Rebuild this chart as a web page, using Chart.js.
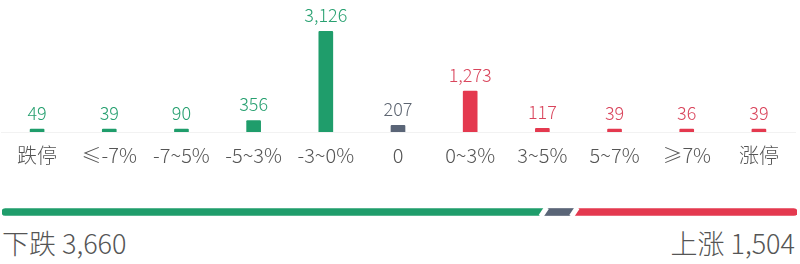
<!DOCTYPE html>
<html>
<head>
<meta charset="utf-8">
<script src="https://cdn.jsdelivr.net/npm/chart.js@4.4.0/dist/chart.umd.min.js"></script>
<style>
  html, body { margin: 0; padding: 0; background: #fff; }
  body { width: 800px; height: 264px; position: relative; overflow: hidden;
         font-family: "Noto Sans CJK SC", "Noto Sans", sans-serif; }
  #distBox { position: absolute; left: 0; top: 0; width: 800px; height: 174px; }
  #ratioBox { position: absolute; left: 0; top: 202px; width: 800px; height: 20px; }
  .sum { position: absolute; top: 225px; font-size: 27px; font-weight: 300; color: #555; line-height: 36px; }
  #downText { left: 2px; }
  #upText { right: 5px; }
</style>
</head>
<body>
<div id="distBox"><canvas id="distChart"></canvas></div>
<div id="ratioBox"><canvas id="ratioChart"></canvas></div>
<div class="sum" id="downText"></div>
<div class="sum" id="upText"></div>
<script>
// ======= 数据 =======
const categories = ['跌停', '≤-7%', '-7~5%', '-5~3%', '-3~0%', '0', '0~3%', '3~5%', '5~7%', '≥7%', '涨停'];
const counts = [49, 39, 90, 356, 3126, 207, 1273, 117, 39, 36, 39];
const groups = ['down', 'down', 'down', 'down', 'down', 'flat', 'up', 'up', 'up', 'up', 'up'];

const barColor = { down: '#1f9d6b', flat: '#5a6577', up: '#e4394f' };
const textColor = { down: '#27a070', flat: '#5c6470', up: '#d9455c' };
const FONT = '"Noto Sans CJK SC", "Noto Sans", sans-serif';

const sumOf = g => counts.reduce((s, v, i) => groups[i] === g ? s + v : s, 0);
const downTotal = sumOf('down');
const flatTotal = sumOf('flat');
const upTotal = sumOf('up');
const fmt = n => n.toLocaleString('en-US');

document.getElementById('downText').textContent = '下跌 ' + fmt(downTotal);
document.getElementById('upText').textContent = '上涨 ' + fmt(upTotal);

// ======= 柱顶数值 =======
const valueLabels = {
  id: 'valueLabels',
  afterDatasetsDraw(chart) {
    const ctx = chart.ctx;
    const meta = chart.getDatasetMeta(0);
    ctx.save();
    ctx.font = '300 18px ' + FONT;
    ctx.textAlign = 'center';
    ctx.textBaseline = 'bottom';
    meta.data.forEach((bar, i) => {
      ctx.fillStyle = textColor[groups[i]];
      ctx.fillText(fmt(counts[i]), bar.x, bar.y - 7);
    });
    ctx.restore();
  }
};

new Chart(document.getElementById('distChart'), {
  type: 'bar',
  data: {
    labels: categories,
    datasets: [{
      data: counts,
      backgroundColor: groups.map(g => barColor[g]),
      barThickness: 14,
      minBarLength: 3,
      borderRadius: 1
    }]
  },
  options: {
    responsive: true,
    maintainAspectRatio: false,
    animation: false,
    layout: { padding: { top: 0, left: 1, right: 5, bottom: 4 } },
    plugins: { legend: { display: false }, tooltip: { enabled: false } },
    scales: {
      x: {
        grid: { display: false },
        border: { display: true, color: '#f2f2f2' },
        ticks: {
          color: '#555',
          padding: 3,
          font: { size: 20, weight: '300', family: FONT }
        }
      },
      y: { display: false, min: 0, max: 4100 }
    }
  },
  plugins: [valueLabels]
});

// ======= 涨跌比例条 =======
const slantGaps = {
  id: 'slantGaps',
  afterDatasetsDraw(chart) {
    const ctx = chart.ctx;
    ctx.save();
    ctx.strokeStyle = '#fff';
    ctx.lineWidth = 5;
    for (let d = 0; d < chart.data.datasets.length - 1; d++) {
      const el = chart.getDatasetMeta(d).data[0];
      const top = el.y - el.height / 2 - 1;
      const bottom = el.y + el.height / 2 + 1;
      ctx.beginPath();
      ctx.moveTo(el.x + 3, top);
      ctx.lineTo(el.x - 3, bottom);
      ctx.stroke();
    }
    ctx.restore();
  }
};

new Chart(document.getElementById('ratioChart'), {
  type: 'bar',
  data: {
    labels: ['ratio'],
    datasets: [
      { data: [downTotal], backgroundColor: barColor.down, barThickness: 7,
        borderRadius: { topLeft: 4, bottomLeft: 4 }, borderSkipped: false },
      { data: [flatTotal], backgroundColor: barColor.flat, barThickness: 7 },
      { data: [upTotal], backgroundColor: barColor.up, barThickness: 7,
        borderRadius: { topRight: 4, bottomRight: 4 }, borderSkipped: false }
    ]
  },
  options: {
    indexAxis: 'y',
    responsive: true,
    maintainAspectRatio: false,
    animation: false,
    layout: { padding: { left: 2, right: 3 } },
    plugins: { legend: { display: false }, tooltip: { enabled: false } },
    scales: {
      x: { display: false, stacked: true, min: 0, max: downTotal + flatTotal + upTotal },
      y: { display: false, stacked: true }
    }
  },
  plugins: [slantGaps]
});
</script>
</body>
</html>
